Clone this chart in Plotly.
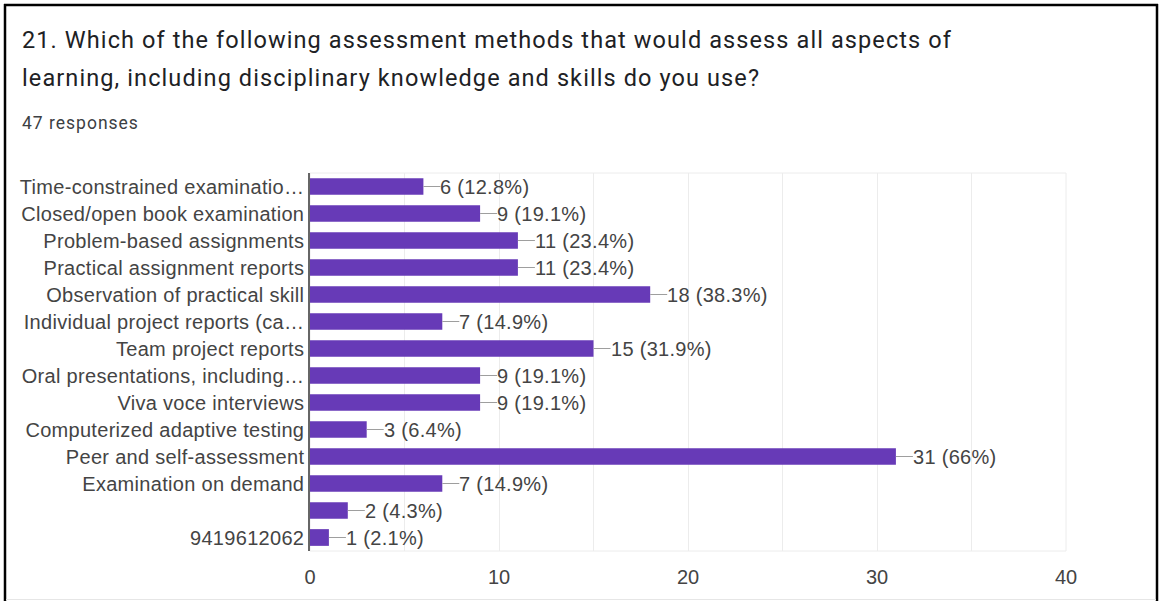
import plotly.graph_objects as go

# Survey results: question 21 (47 respondents)
categories = [
    "Time-constrained examinatio…",
    "Closed/open book examination",
    "Problem-based assignments",
    "Practical assignment reports",
    "Observation of practical skill",
    "Individual project reports (ca…",
    "Team project reports",
    "Oral presentations, including…",
    "Viva voce interviews",
    "Computerized adaptive testing",
    "Peer and self-assessment",
    "Examination on demand",
    "",
    "9419612062",
]
counts = [6, 9, 11, 11, 18, 7, 15, 9, 9, 3, 31, 7, 2, 1]
total_responses = 47
x_ticks = [0, 10, 20, 30, 40]

W, H = 1160, 601
L, R, T, B = 310, 94, 173, 50
PW, PH = W - L - R, H - T - B

BAR = "#673ab7"
TXT = "#444444"
LABEL_FONT = "Liberation Sans, Arial, sans-serif"
TITLE_FONT = "Roboto, sans-serif"


def px(xp):
    return (xp - L) / PW


def py(yp):
    return 1 - (yp - T) / PH


def spaced(text, ls):
    if not text:
        return text
    return f'<span style="letter-spacing:{ls}px">{text}</span>'


def pct_text(v):
    p = f"{v / total_responses * 100:.1f}"
    if p.endswith(".0"):
        p = p[:-2]
    return f"{v} ({p}%)"


idx = list(range(len(categories)))

fig = go.Figure(
    go.Bar(
        x=counts,
        y=idx,
        orientation="h",
        marker=dict(color=BAR, line=dict(width=0)),
        width=0.62,
        hoverinfo="skip",
    )
)

shapes = []
annotations = []

# leader lines and value labels beside each bar
for i, v in zip(idx, counts):
    shapes.append(dict(
        type="line", xref="x", yref="y", xsizemode="pixel", xanchor=v,
        x0=0, x1=17, y0=i, y1=i, line=dict(color="#9e9e9e", width=1),
    ))
    annotations.append(dict(
        x=v, y=i, xref="x", yref="y", text=spaced(pct_text(v), 0.3),
        showarrow=False, xanchor="left", yanchor="middle", xshift=15,
        font=dict(family=LABEL_FONT, size=20, color=TXT),
    ))

# page frame
shapes += [
    dict(type="line", xref="paper", yref="paper", x0=px(5), x1=px(5),
         y0=py(4), y1=py(601), line=dict(color="#000000", width=2.5)),
    dict(type="line", xref="paper", yref="paper", x0=px(4), x1=px(1158),
         y0=py(5), y1=py(5), line=dict(color="#000000", width=2.5)),
    dict(type="line", xref="paper", yref="paper", x0=px(1157), x1=px(1157),
         y0=py(4), y1=py(601), line=dict(color="#000000", width=2.5)),
    dict(type="line", xref="paper", yref="paper", x0=px(6), x1=px(1156),
         y0=py(599.5), y1=py(599.5), line=dict(color="#e6e6e6", width=1)),
    # plot area outline
    dict(type="rect", xref="paper", yref="paper", x0=0, x1=1, y0=0, y1=1,
         line=dict(color="#ececec", width=1), layer="below"),
]

title_lines = [
    "21. Which of the following assessment methods that would assess all aspects of",
    "learning, including disciplinary knowledge and skills do you use?",
]
for yy, line in zip([40, 78], title_lines):
    annotations.append(dict(
        x=px(20), y=py(yy), xref="paper", yref="paper", text=spaced(line, 1.1),
        showarrow=False, xanchor="left", yanchor="middle",
        font=dict(family=TITLE_FONT, size=23.5, color="#202124"),
    ))
annotations.append(dict(
    x=px(20), y=py(123), xref="paper", yref="paper",
    text=spaced(f"{total_responses} responses", 1.0), showarrow=False,
    xanchor="left", yanchor="middle",
    font=dict(family=TITLE_FONT, size=17.5, color="#3c4043"),
))

fig.update_layout(
    width=W, height=H,
    margin=dict(l=L, r=R, t=T, b=B, pad=0),
    paper_bgcolor="white", plot_bgcolor="white",
    showlegend=False,
    shapes=shapes,
    annotations=annotations,
    xaxis=dict(
        range=[0, 40], tickvals=x_ticks, ticktext=[str(t) for t in x_ticks],
        showgrid=True, gridcolor="#ececec", gridwidth=1,
        minor=dict(dtick=5, showgrid=True, gridcolor="#ececec", gridwidth=1),
        zeroline=False, showline=False, ticks="", ticklen=0,
        tickfont=dict(family=LABEL_FONT, size=20, color=TXT),
        ticklabelstandoff=12, fixedrange=True,
    ),
    yaxis=dict(
        range=[len(categories) - 0.5, -0.5],
        tickvals=idx, ticktext=[spaced(c, 0.3) for c in categories],
        showgrid=False, zeroline=False,
        showline=True, linecolor="#666666", linewidth=1.5,
        ticks="", ticklen=0, tickfont=dict(family=LABEL_FONT, size=20, color=TXT),
        ticklabelstandoff=0, fixedrange=True,
    ),
)

fig.write_html("out.html", config={"displayModeBar": False})
